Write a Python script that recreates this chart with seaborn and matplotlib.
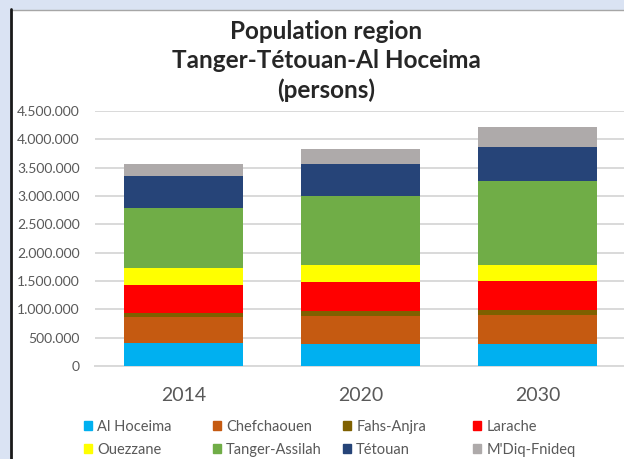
import numpy as np
import pandas as pd
import matplotlib
matplotlib.use("Agg")
import matplotlib.pyplot as plt
from matplotlib.patches import Patch, Rectangle
from matplotlib.lines import Line2D
from matplotlib.ticker import FuncFormatter
import seaborn as sns

years = ["2014", "2020", "2030"]
regions = ["Al Hoceima", "Chefchaouen", "Fahs-Anjra", "Larache",
           "Ouezzane", "Tanger-Assilah", "Tétouan", "M'Diq-Fnideq"]
al_hoceima = [399654, 395000, 388000]
chefchaouen = [457432, 494000, 506000]
fahs_anjra = [76447, 78000, 94000]
larache = [496687, 512000, 506000]
ouezzane = [300637, 300000, 282000]
tanger_assilah = [1065601, 1218000, 1482000]
tetouan = [550374, 565000, 600000]
mdiq_fnideq = [209897, 265000, 353000]
colors = ["#00b0f0", "#c55a11", "#7f6000", "#ff0000",
          "#ffff00", "#70ad47", "#264478", "#aeaaaa"]

series = [al_hoceima, chefchaouen, fahs_anjra, larache,
          ouezzane, tanger_assilah, tetouan, mdiq_fnideq]

sns.set_style("white")
plt.rcParams['font.family'] = ['Lato', 'DejaVu Sans']

# cumulative totals, drawn tallest first so each lower segment paints over
cum = np.cumsum(np.array(series), axis=0)
df = pd.DataFrame(cum.T, columns=regions)
df["year"] = years

fig = plt.figure(figsize=(6.24, 4.59), dpi=100)
W, H = 624, 459

# frame of the spreadsheet window
fig.patches.append(Rectangle((0, 1 - 9 / H), 1, 9 / H, transform=fig.transFigure,
                             color="#dae3f3", zorder=0))
fig.patches.append(Rectangle((0, 0), 10 / W, 1, transform=fig.transFigure,
                             color="#dae3f3", zorder=0))
fig.lines.append(Line2D([12 / W, 1], [1 - 9.5 / H, 1 - 9.5 / H], transform=fig.transFigure,
                        color="#a6a6a6", lw=1))
fig.lines.append(Line2D([11 / W, 11 / W], [0, 1 - 9 / H], transform=fig.transFigure,
                        color="#1a1a1a", lw=2))

ax = fig.add_axes([95 / W, 1 - 366 / H, 531 / W, 255 / H])
for i in reversed(range(len(regions))):
    sns.barplot(data=df, x="year", y=regions[i], color=colors[i], saturation=1,
                width=0.667, ax=ax, zorder=3, linewidth=0, edgecolor="none")

ax.set_xlim(-0.5, 2.5)
ax.set_ylim(0, 4500000)
ax.set_yticks(np.arange(0, 4500001, 500000))
ax.yaxis.set_major_formatter(FuncFormatter(lambda v, p: f"{v:,.0f}".replace(",", ".")))
ax.grid(axis="y", color="#d9d9d9", lw=1.4, zorder=0)
ax.set_axisbelow(True)
for s in ["top", "right", "left"]:
    ax.spines[s].set_visible(False)
ax.spines["bottom"].set_color("#d9d9d9")
ax.spines["bottom"].set_linewidth(1.4)
ax.set_xlabel("")
ax.set_ylabel("")
ax.tick_params(axis="y", length=0, pad=11, labelsize=10, labelcolor="#595959")
ax.tick_params(axis="x", length=0, pad=15, labelsize=14, labelcolor="#595959")

fig.text(326 / W, 1 - 61 / H, "Population region\nTanger-Tétouan-Al Hoceima\n(persons)",
         ha="center", va="center", fontsize=17.5, fontweight="bold", linespacing=1.33)

# legend: one small legend per column, as in the spreadsheet layout
col_x = [84, 213, 343, 473]
for c in range(4):
    handles = [Patch(color=colors[c]), Patch(color=colors[c + 4])]
    labels = [regions[c], regions[c + 4]]
    leg = fig.legend(handles, labels, loc="upper left",
                     bbox_to_anchor=(col_x[c] / W, 1 - 420 / H),
                     frameon=False, fontsize=10.5, handlelength=0.55, handleheight=0.55,
                     handletextpad=0.35, labelspacing=0.6, borderpad=0, borderaxespad=0)
    for t in leg.get_texts():
        t.set_color("#595959")

fig.savefig("out.png", dpi=100)
